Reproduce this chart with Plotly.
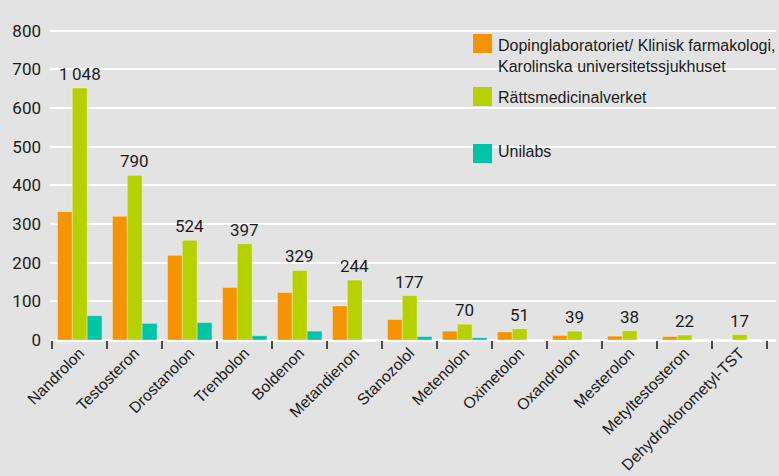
import plotly.graph_objects as go

# ---------------- data ----------------
categories = ["Nandrolon", "Testosteron", "Drostanolon", "Trenbolon", "Boldenon",
              "Metandienon", "Stanozolol", "Metenolon", "Oximetolon", "Oxandrolon",
              "Mesterolon", "Metyltestosteron", "Dehydroklorometyl-TST"]
doping = [332, 320, 219, 136, 123, 88, 53, 23, 21, 12, 10, 9, 0]
rmv = [652, 426, 258, 249, 180, 155, 115, 41, 29, 23, 24, 13, 14]
unilabs = [63, 43, 45, 11, 23, 0, 9, 6, 0, 0, 0, 0, 0]
totals = ["1\u2009048", "790", "524", "397", "329", "244", "177", "70", "51", "39", "38", "22", "17"]
series_names = ["Dopinglaboratoriet/ Klinisk farmakologi, Karolinska universitetssjukhuset",
                "Rättsmedicinalverket", "Unilabs"]
legend_lines = [["Dopinglaboratoriet/ Klinisk farmakologi,", "Karolinska universitetssjukhuset"],
                ["Rättsmedicinalverket"], ["Unilabs"]]
colors = ["#f59300", "#b6d100", "#00c4a7"]

# ---------------- figure ----------------
W, H = 779, 476
ML, MR, MT, MB = 50, 3, 23, 136
NUMFONT = "Roboto, Liberation Sans, Arial, sans-serif"
TXTFONT = "Liberation Sans, Arial, sans-serif"
BG = "#e3e3e3"
TXT = "#1c1c1c"

fig = go.Figure()
for name, vals, col in zip(series_names, [doping, rmv, unilabs], colors):
    fig.add_trace(go.Bar(
        x=categories, y=vals, name=name,
        marker=dict(color=col, line=dict(color="rgba(255,255,255,0.45)", width=0.8)),
        showlegend=False, hoverinfo="x+y+name"))

# total labels above each group
annotations = []
for cat, a, b, c, t in zip(categories, doping, rmv, unilabs, totals):
    annotations.append(dict(x=cat, y=max(a, b, c), xref="x", yref="y", text=t,
                            showarrow=False, yanchor="bottom", yshift=2,
                            font=dict(family=NUMFONT, size=17, color=TXT)))

# manual legend (square swatch aligned to first text line)
pw = W - ML - MR
ph = H - MT - MB
def px_x(p):
    return (p - ML) / pw
def px_y(p):
    return (H - MB - p) / ph

shapes = []
sw_tops = [34, 87, 144]
first_baselines = [50.7, 103.3, 157.3]
LINE_H = 21.6
LFS = 16
for lines, col, top, bl in zip(legend_lines, colors, sw_tops, first_baselines):
    shapes.append(dict(type="rect", xref="paper", yref="paper",
                       x0=px_x(473), x1=px_x(492), y0=px_y(top + 19), y1=px_y(top),
                       fillcolor=col, line=dict(width=0)))
    for k, line in enumerate(lines):
        center = bl + k * LINE_H - 0.35 * LFS
        annotations.append(dict(x=px_x(496), y=px_y(center), xref="paper", yref="paper",
                                text=line, showarrow=False, xanchor="left", yanchor="middle",
                                align="left", font=dict(family=TXTFONT, size=LFS, color=TXT)))

fig.update_layout(
    width=W, height=H,
    margin=dict(l=ML, r=MR, t=MT, b=MB, pad=0, autoexpand=False),
    paper_bgcolor=BG, plot_bgcolor=BG,
    barmode="group", bargap=0.19, bargroupgap=0,
    showlegend=False,
    font=dict(family=TXTFONT, size=16, color=TXT),
    annotations=annotations, shapes=shapes,
    xaxis=dict(type="category", range=[-0.54, 12.66], tickangle=-45, automargin=False,
               ticks="outside", tickson="boundaries", ticklen=8, tickwidth=2,
               tickcolor="#4a4a4a", showgrid=False, showline=False, zeroline=False,
               tickfont=dict(family=TXTFONT, size=15.7, color=TXT)),
    yaxis=dict(range=[0, 820], tick0=0, dtick=100, showgrid=True, gridcolor="white",
               gridwidth=2, zeroline=True, zerolinecolor="white", zerolinewidth=3,
               showline=False, ticks="", ticklabelstandoff=8, automargin=False,
               tickfont=dict(family=NUMFONT, size=17, color=TXT)),
)

fig.write_html("out.html")
